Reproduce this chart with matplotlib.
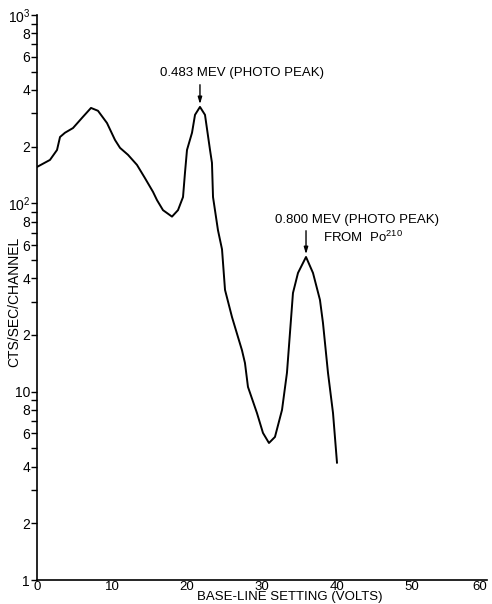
import matplotlib
matplotlib.use("Agg")
import matplotlib.pyplot as plt

plt.rcParams["font.family"] = ["Liberation Sans", "DejaVu Sans"]
plt.rcParams["mathtext.fontset"] = "custom"
plt.rcParams["mathtext.rm"] = "Liberation Sans"

# curve (base-line volts, counts/sec/channel)
volts = [0.0, 1.73, 2.67, 3.07, 3.73, 4.8, 6.13, 7.2, 8.13, 9.33, 10.4, 11.07,
         12.13, 13.33, 14.4, 15.47, 16.0, 16.8, 18.0, 18.8, 19.47, 19.73, 20.0,
         20.67, 21.07, 21.73, 22.4, 23.07, 23.33, 23.47, 24.13, 24.67, 25.07,
         26.0, 26.8, 27.33, 27.73, 28.13, 29.33, 30.13, 30.93, 31.73, 32.67,
         33.33, 33.73, 34.13, 34.8, 35.87, 36.8, 37.73, 38.13, 38.8, 39.47, 40.0]
counts = [156, 170, 192, 225, 237, 251, 288, 321, 310, 267, 217, 197,
          181, 160, 136, 115, 104, 92, 85, 92, 108, 145, 192,
          237, 295, 325, 295, 192, 164, 108, 72, 57, 34.7,
          24.9, 19.5, 16.6, 14.2, 10.6, 7.7, 6.04, 5.34, 5.75, 8.0,
          12.6, 20.5, 33.4, 42.7, 51.9, 42.7, 30.7, 23.2, 12.6, 7.7, 4.2]

x_ticks = [0, 10, 20, 30, 40, 50, 60]
x_labels = ["0", "10", "20", "30", "40", "50", "60"]

y_ticks = [1, 2, 3, 4, 5, 6, 7, 8, 9,
           10, 20, 30, 40, 50, 60, 70, 80, 90,
           100, 200, 300, 400, 500, 600, 700, 800, 900, 1000]
y_labels = ["1", "2", "", "4", "", "6", "", "8", "",
            "10", "2", "", "4", "", "6", "", "8", "",
            r"10$^{\mathregular{2}}$", "2", "", "4", "", "6", "", "8", "",
            r"10$^{\mathregular{3}}$"]

peak1 = (21.73, 325)
peak2 = (35.87, 51.9)

fig = plt.figure(figsize=(4.92, 6.04), dpi=100)
ax = fig.add_axes([0.0752, 0.0397, 0.9146, 0.9355])

ax.plot(volts, counts, color="black", lw=1.4, solid_joinstyle="round")
ax.set_yscale("log")
ax.set_xlim(0, 60)
ax.set_ylim(1, 1000)

ax.set_xticks(x_ticks)
ax.set_xticklabels(x_labels)
ax.yaxis.set_major_locator(matplotlib.ticker.FixedLocator(y_ticks))
ax.yaxis.set_minor_locator(matplotlib.ticker.NullLocator())
ax.set_yticklabels(y_labels)

ax.tick_params(axis="y", direction="out", length=4, width=1, pad=1,
               labelsize=10)
ax.tick_params(axis="x", length=0, pad=0.5, labelsize=9.5)
ax.get_xticklabels()[-1].set_horizontalalignment("right")

for side in ("top", "right"):
    ax.spines[side].set_visible(False)
for side in ("left", "bottom"):
    ax.spines[side].set_linewidth(1.2)

fig.text(0.028, 0.5, "CTS/SEC/CHANNEL", rotation=90, ha="center",
         va="center", fontsize=10)
fig.text(0.589, 0.001, "BASE-LINE SETTING (VOLTS)", ha="center",
         va="bottom", fontsize=9.5)

# annotations with arrows
arrow = dict(arrowstyle="-|>,head_length=0.4,head_width=0.12",
             color="black", lw=1)
ax.annotate("", xy=peak1, xytext=(peak1[0], 441), arrowprops=arrow)
ax.text(16.4, 493, "0.483 MEV (PHOTO PEAK)", ha="left", va="center",
        fontsize=9.5)

ax.annotate("", xy=peak2, xytext=(peak2[0], 74), arrowprops=arrow)
ax.text(31.7, 81.6, "0.800 MEV (PHOTO PEAK)", ha="left", va="center",
        fontsize=9.5)
ax.text(38.1, 66.3, r"FROM  Po$^{\mathregular{210}}$", ha="left",
        va="center", fontsize=9.5)

fig.savefig("out.png", dpi=100)
